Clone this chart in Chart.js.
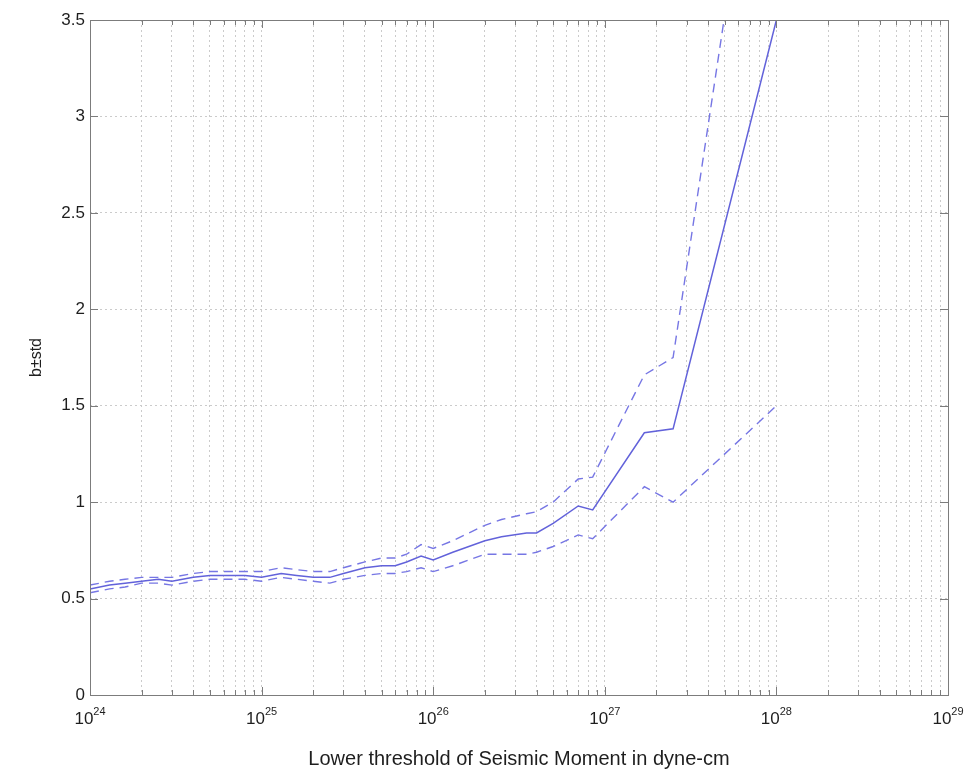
<!DOCTYPE html>
<html>
<head>
<meta charset="utf-8">
<script src="https://cdn.jsdelivr.net/npm/chart.js@4.4.1/dist/chart.umd.min.js"></script>
<style>
  html, body { margin: 0; padding: 0; background: #fff; }
  canvas { display: block; }
</style>
</head>
<body>
<canvas id="bChart" width="970" height="777"></canvas>
<script>
// Umbral inferior de momento sísmico (dyne-cm)
const thresholds = [
  1e24, 1.3e24, 1.6e24, 2e24, 2.5e24, 3e24, 4e24, 5e24, 6e24, 8e24,
  1e25, 1.3e25, 1.6e25, 2e25, 2.5e25, 3e25, 4e25, 5e25, 6e25, 7e25, 8.5e25,
  1e26, 1.3e26, 2e26, 2.5e26, 3.5e26, 4e26, 5e26, 7e26, 8.5e26,
  1.7e27, 2.5e27, 1e28
];

// b estimado
const bValues = [
  0.55, 0.57, 0.58, 0.59, 0.60, 0.59, 0.61, 0.62, 0.62, 0.62,
  0.61, 0.63, 0.62, 0.61, 0.61, 0.63, 0.66, 0.67, 0.67, 0.69, 0.72,
  0.70, 0.74, 0.80, 0.82, 0.84, 0.84, 0.89, 0.98, 0.96,
  1.36, 1.38, 3.5
];

// b + std
const upperValues = [
  0.57, 0.59, 0.60, 0.61, 0.61, 0.61, 0.63, 0.64, 0.64, 0.64,
  0.64, 0.66, 0.65, 0.64, 0.64, 0.66, 0.69, 0.71, 0.71, 0.73, 0.78,
  0.76, 0.80, 0.88, 0.91, 0.94, 0.95, 1.00, 1.12, 1.13,
  1.66, 1.75, 5.3
];

// b - std
const lowerValues = [
  0.53, 0.55, 0.56, 0.58, 0.58, 0.57, 0.59, 0.60, 0.60, 0.60,
  0.59, 0.61, 0.60, 0.59, 0.58, 0.60, 0.62, 0.63, 0.63, 0.64, 0.66,
  0.64, 0.67, 0.73, 0.73, 0.73, 0.74, 0.77, 0.83, 0.81,
  1.08, 1.00, 1.50
];

const decadeExponents = [24, 25, 26, 27, 28, 29];
const yTickLabels = ['0', '0.5', '1', '1.5', '2', '2.5', '3', '3.5'];

const lineColor = 'rgb(98, 98, 218)';
const dashColor = 'rgb(118, 118, 228)';
const fontFamily = '"Liberation Sans", Arial, Helvetica, sans-serif';

const toPoints = vals => thresholds.map((t, i) => ({ x: t, y: vals[i] }));

// rejilla logarítmica: 1..9 x 10^n
const gridValues = [];
decadeExponents.forEach((e, k) => {
  const base = Number('1e' + e);
  if (k === decadeExponents.length - 1) {
    gridValues.push(base);
    return;
  }
  for (let m = 1; m <= 9; m++) gridValues.push(m * base);
});

// marco tipo MATLAB, marcas hacia dentro y etiquetas 10^n
const axesBox = {
  id: 'axesBox',
  afterDraw(chart) {
    const { ctx, chartArea: a, scales: { x, y } } = chart;
    ctx.save();
    ctx.strokeStyle = '#7c7c7c';
    ctx.lineWidth = 1;
    ctx.setLineDash([]);
    ctx.beginPath();
    y.ticks.forEach(t => {
      const py = Math.round(y.getPixelForValue(t.value)) + 0.5;
      ctx.moveTo(a.left, py); ctx.lineTo(a.left + 8, py);
      ctx.moveTo(a.right, py); ctx.lineTo(a.right - 8, py);
    });
    x.ticks.forEach(t => {
      const px = Math.round(x.getPixelForValue(t.value)) + 0.5;
      const len = t.major ? 8 : 5;
      ctx.moveTo(px, a.bottom); ctx.lineTo(px, a.bottom - len);
      ctx.moveTo(px, a.top); ctx.lineTo(px, a.top + len);
    });
    ctx.stroke();
    ctx.strokeRect(Math.round(a.left) + 0.5, Math.round(a.top) + 0.5,
      Math.round(a.right - a.left), Math.round(a.bottom - a.top));

    ctx.fillStyle = '#1e1e1e';
    ctx.textBaseline = 'alphabetic';
    ctx.textAlign = 'left';
    decadeExponents.forEach(e => {
      const px = x.getPixelForValue(Number('1e' + e));
      ctx.font = '17px ' + fontFamily;
      const wb = ctx.measureText('10').width;
      ctx.font = '11px ' + fontFamily;
      const we = ctx.measureText(String(e)).width;
      const start = px - (wb + we) / 2;
      ctx.font = '17px ' + fontFamily;
      ctx.fillText('10', start, a.bottom + 29);
      ctx.font = '11px ' + fontFamily;
      ctx.fillText(String(e), start + wb, a.bottom + 20);
    });
    ctx.restore();
  }
};

new Chart(document.getElementById('bChart'), {
  type: 'line',
  data: {
    datasets: [
      {
        label: 'b',
        data: toPoints(bValues),
        borderColor: lineColor,
        borderWidth: 1.5,
        pointRadius: 0,
        tension: 0
      },
      {
        label: 'b+std',
        data: toPoints(upperValues),
        borderColor: dashColor,
        borderWidth: 1.4,
        borderDash: [9, 6],
        pointRadius: 0,
        tension: 0
      },
      {
        label: 'b-std',
        data: toPoints(lowerValues),
        borderColor: dashColor,
        borderWidth: 1.4,
        borderDash: [9, 6],
        pointRadius: 0,
        tension: 0
      }
    ]
  },
  options: {
    responsive: false,
    devicePixelRatio: 1,
    animation: false,
    layout: { padding: { top: 20, right: 22, left: 0, bottom: 0 } },
    plugins: {
      legend: { display: false },
      tooltip: { enabled: false }
    },
    scales: {
      x: {
        type: 'logarithmic',
        min: 1e24,
        max: 1e29,
        afterBuildTicks: scale => {
          scale.ticks = gridValues.map(v => ({
            value: v,
            major: decadeExponents.some(e => Number('1e' + e) === v)
          }));
        },
        afterFit: scale => { scale.height = 82; },
        ticks: { display: false },
        grid: { color: '#cbcbcb', lineWidth: 1, drawTicks: false },
        border: { display: false, dash: [2, 3] },
        title: {
          display: true,
          text: 'Lower threshold of Seismic Moment in dyne-cm',
          color: '#1e1e1e',
          font: { family: fontFamily, size: 20 },
          padding: { top: 6, bottom: 6 }
        }
      },
      y: {
        min: 0,
        max: 3.5,
        afterFit: scale => { scale.width = 90; },
        ticks: {
          stepSize: 0.5,
          padding: 5,
          color: '#1e1e1e',
          font: { family: fontFamily, size: 17 },
          callback: (v, i) => yTickLabels[i]
        },
        grid: { color: '#cbcbcb', lineWidth: 1, drawTicks: false },
        border: { display: false, dash: [2, 3] },
        title: {
          display: true,
          text: 'b±std',
          color: '#1e1e1e',
          font: { family: fontFamily, size: 16 },
          padding: { top: 27, bottom: 27 }
        }
      }
    }
  },
  plugins: [axesBox]
});
</script>
</body>
</html>
